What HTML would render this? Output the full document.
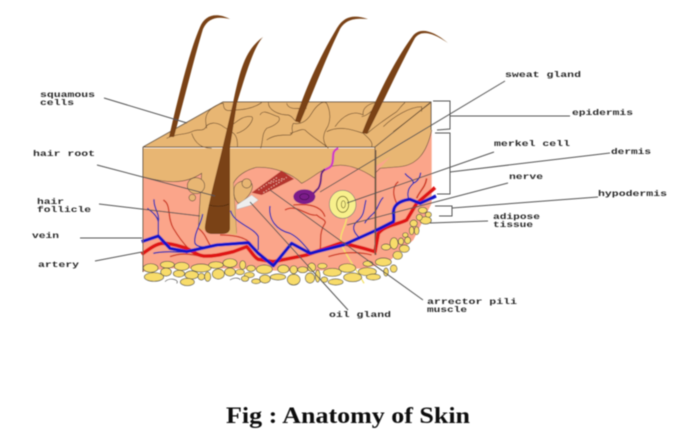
<!DOCTYPE html>
<html><head><meta charset="utf-8"><style>
html,body{margin:0;padding:0;background:#fff;width:686px;height:437px;overflow:hidden}
svg{display:block}
.l text{font-family:"Liberation Mono","DejaVu Sans Mono",monospace;font-weight:bold;font-size:8.5px;fill:#2a2a2a}
</style></head><body>
<svg width="686" height="437" viewBox="0 0 686 437" xmlns="http://www.w3.org/2000/svg">
<defs><filter id="b" x="-5%" y="-5%" width="110%" height="110%"><feGaussianBlur stdDeviation="0.4"/></filter></defs>
<g filter="url(#b)">
<!-- top face + side -->
<polygon points="143,147 223,102 431,102 431,150 375,190 375,147" fill="#E8B673"/>
<g transform="translate(130,140) scale(.33333)">
 <!-- salmon body -->
 <path d="M38,25 L38,395 L120,385 L300,385 L500,395 L700,385 L770,370 L850,300 L905,190 L905,-30 L735,80 L735,25 Z" fill="#FBA58A"/>
 <!-- tan front with follicle sleeve -->
 <path d="M38,25 L735,25 L735,115 C700,90 640,60 590,85 C565,95 545,115 515,130 C490,105 440,80 380,82 C345,90 320,110 310,130 L320,285 L205,268 L215,100 C200,110 170,125 130,125 C90,125 60,115 38,110 Z" fill="#E8B673"/>
 <path d="M735,100 L750,85 L810,80 C860,75 890,40 905,-30 L800,30 L735,100 Z" fill="#E8B673"/>
 <path d="M38,110 C60,115 90,125 130,125 C170,125 200,110 215,100 L205,265 M310,130 C320,110 345,90 380,82 C440,80 490,105 515,130 C545,115 565,95 590,85 C640,60 700,90 735,115 M735,100 L750,85 L810,80 C860,75 890,40 905,-30" fill="none" stroke="#6b5240" stroke-width="2"/>
 <path d="M310,130 L320,280" fill="none" stroke="#a98a5c" stroke-width="2"/>
 <!-- gland circles -->
 <ellipse cx="198" cy="137" rx="26" ry="24" fill="#E8B673" stroke="#6b5240" stroke-width="2"/>
 <circle cx="187" cy="173" r="10" fill="#E8B673" stroke="#6b5240" stroke-width="2"/>
 <path d="M312,150 C312,125 345,115 365,130 C375,150 345,185 325,190 C315,180 310,165 312,150 Z" fill="#E8B673" stroke="#6b5240" stroke-width="2"/>
 <circle cx="350" cy="130" r="14" fill="#E8B673" stroke="#6b5240" stroke-width="2"/>
 <polygon points="320,195 365,165 385,180 365,195 320,208" fill="#eee" stroke="#999" stroke-width="1"/>
 <!-- speckled muscle -->
 <polygon points="365,158 455,92 492,117 395,165" fill="#B5352E"/>
 <path d="M385,150 L445,110 M400,158 L470,112 M420,130 L460,115" stroke="#e9b0a0" stroke-width="3" stroke-dasharray="4 5"/>
 <!-- merkel cell -->
 <path d="M625,25 C600,35 615,55 605,75 C600,85 590,85 585,90" fill="none" stroke="#D23BC2" stroke-width="7"/>
 <path d="M585,88 C565,100 580,120 565,145 L545,165" fill="none" stroke="#6B1F80" stroke-width="6"/>
 <ellipse cx="523" cy="170" rx="33" ry="22" fill="#7B1E8A"/>
 <ellipse cx="523" cy="170" rx="14" ry="9" fill="none" stroke="#3f0d4a" stroke-width="2"/>
 <!-- nerve ending -->
 <ellipse cx="638" cy="193" rx="40" ry="42" fill="#F8F08C" stroke="#777" stroke-width="2"/>
 <ellipse cx="638" cy="193" rx="18" ry="24" fill="none" stroke="#6c6420" stroke-width="2.5"/>
 <ellipse cx="640" cy="193" rx="6" ry="11" fill="none" stroke="#6c6420" stroke-width="2"/>
 <path d="M650,235 C645,265 625,285 635,315 C650,350 680,390 702,430" fill="none" stroke="#F5E26A" stroke-width="4"/>
 <!-- thin red -->
 <g fill="none" stroke="#D03A24" stroke-width="4">
  <path d="M100,180 C125,195 110,230 130,265 C145,290 160,310 175,325"/>
  <path d="M205,265 C225,280 230,300 240,315"/>
  <path d="M465,210 C500,190 530,230 560,225 C570,235 590,240 585,250 C565,280 575,310 570,330"/>
  <path d="M490,195 C540,190 575,200 585,230"/>
  <path d="M270,285 C310,285 350,290 365,315"/>
  <path d="M120,350 C160,335 190,345 220,350"/>
  <path d="M595,350 C640,335 690,335 725,345"/>
  <path d="M805,125 C785,140 790,170 800,190"/>
  <path d="M890,115 C885,145 870,150 860,175" stroke-width="5"/>
 </g>
 <!-- thin blue -->
 <g fill="none" stroke="#3232B0" stroke-width="4">
  <path d="M72,178 C70,205 90,220 85,245 C85,265 85,275 85,288"/>
  <path d="M52,205 C65,215 80,225 85,245"/>
  <path d="M218,222 C215,250 190,280 195,310 C200,320 215,320 225,322"/>
  <path d="M302,212 C310,250 370,260 385,290 L385,330"/>
  <path d="M420,198 C415,240 440,270 480,280 C510,295 525,320 540,335"/>
  <path d="M70,340 C110,330 150,340 175,335"/>
  <path d="M708,180 C700,210 705,225 680,245 C665,260 670,275 685,290"/>
  <path d="M760,172 C745,185 745,210 725,225 C710,240 705,245 705,250"/>
  <path d="M825,100 C835,115 850,115 850,130 C840,140 830,150 835,175"/>
  <path d="M872,98 C870,115 860,125 850,130"/>
 </g>
 <path d="M738,30 L738,345" stroke="#6b5240" stroke-width="2.5" fill="none"/>
 <!-- fat -->
 <g fill="#F8DC6A" stroke="#444" stroke-width="2">
  <ellipse cx="62" cy="384" rx="22" ry="13"/><ellipse cx="72" cy="411" rx="29" ry="13"/><ellipse cx="112" cy="374" rx="21" ry="10"/><ellipse cx="108" cy="396" rx="16" ry="12"/><ellipse cx="155" cy="379" rx="22" ry="12"/><ellipse cx="147" cy="401" rx="17" ry="10"/><ellipse cx="185" cy="405" rx="20" ry="12"/><ellipse cx="172" cy="426" rx="21" ry="11"/><ellipse cx="213" cy="384" rx="30" ry="12"/><ellipse cx="214" cy="410" rx="10" ry="10"/><ellipse cx="233" cy="410" rx="9" ry="14"/><ellipse cx="258" cy="375" rx="22" ry="10"/><ellipse cx="265" cy="402" rx="18" ry="15"/><ellipse cx="300" cy="369" rx="21" ry="13"/><ellipse cx="300" cy="396" rx="16" ry="12"/><ellipse cx="338" cy="375" rx="9" ry="13"/><ellipse cx="330" cy="396" rx="13" ry="8"/><ellipse cx="358" cy="405" rx="15" ry="8"/><ellipse cx="345" cy="416" rx="11" ry="8"/><ellipse cx="363" cy="385" rx="13" ry="9"/><ellipse cx="403" cy="388" rx="24" ry="13"/><ellipse cx="378" cy="424" rx="13" ry="7"/><ellipse cx="405" cy="417" rx="16" ry="12"/><ellipse cx="444" cy="411" rx="23" ry="9"/><ellipse cx="460" cy="387" rx="17" ry="12"/><ellipse cx="491" cy="389" rx="11" ry="12"/><ellipse cx="491" cy="419" rx="19" ry="16"/><ellipse cx="518" cy="389" rx="15" ry="9"/><ellipse cx="545" cy="382" rx="12" ry="13"/><ellipse cx="540" cy="414" rx="14" ry="15"/><ellipse cx="563" cy="408" rx="7" ry="18"/><ellipse cx="577" cy="378" rx="14" ry="8"/><ellipse cx="583" cy="419" rx="10" ry="8"/><ellipse cx="607" cy="397" rx="27" ry="12"/><ellipse cx="617" cy="426" rx="22" ry="9"/><ellipse cx="652" cy="384" rx="25" ry="13"/><ellipse cx="668" cy="412" rx="27" ry="13"/><ellipse cx="712" cy="395" rx="27" ry="12"/><ellipse cx="714" cy="371" rx="15" ry="8"/><ellipse cx="730" cy="411" rx="21" ry="9"/><ellipse cx="760" cy="366" rx="24" ry="12"/><ellipse cx="768" cy="321" rx="14" ry="9"/><ellipse cx="768" cy="396" rx="7" ry="12"/><ellipse cx="791" cy="386" rx="10" ry="11"/><ellipse cx="792" cy="310" rx="12" ry="17"/><ellipse cx="803" cy="346" rx="14" ry="12"/><ellipse cx="823" cy="326" rx="15" ry="11"/><ellipse cx="813" cy="304" rx="8" ry="10"/><ellipse cx="833" cy="301" rx="9" ry="10"/><ellipse cx="826" cy="285" rx="8" ry="7"/><ellipse cx="845" cy="272" rx="7" ry="12"/><ellipse cx="860" cy="272" rx="7" ry="12"/><ellipse cx="851" cy="250" rx="11" ry="10"/><ellipse cx="887" cy="241" rx="17" ry="11"/><ellipse cx="878" cy="211" rx="13" ry="9"/><ellipse cx="868" cy="232" rx="9" ry="9"/><ellipse cx="895" cy="224" rx="9" ry="8"/>
 </g>
 <path d="M105,425 C120,410 150,420 140,430 M300,420 C315,410 330,415 330,420" fill="none" stroke="#555" stroke-width="2"/>
 <!-- main vessels -->
 <path d="M35,343 C60,325 80,310 100,310 C130,310 150,320 170,325 C190,335 200,345 220,348 C250,350 280,342 310,335 L350,320 C365,335 370,350 385,358 L430,365 L530,345 L630,310 C670,315 700,325 735,335 L745,280 C765,255 800,255 830,240 L860,190 L915,143" fill="none" stroke="#E01515" stroke-width="11" stroke-linejoin="round"/>
 <path d="M35,305 L85,288 L120,325 L170,335 L260,315 L355,308 L385,340 L430,377 L485,310 L540,340 L640,315 L740,270 L790,245 C795,230 785,215 795,200 C805,185 825,180 840,178 L870,190 L918,168" fill="none" stroke="#1616C8" stroke-width="10" stroke-linejoin="round"/>
</g>
<!-- block edges -->
<path d="M143,147 L223,102 L431,102 L431,130 M143,147 L375,147 L431,102 M143,147 L143,272 M375,147 L375,255" fill="none" stroke="#6a5a48" stroke-width="1"/>
<!-- top face cracks -->
<g transform="translate(130,0) scale(.33333)" fill="none" stroke="#6b4a2a" stroke-width="2">
 <path d="M110,415 C140,400 165,405 185,395 C205,385 215,395 225,385 C235,365 260,365 280,380 C300,395 325,395 322,440"/>
 <path d="M185,400 C195,430 215,445 245,445 M230,385 C225,360 225,345 240,330 C255,315 275,310 280,310 C280,330 290,335 310,330 C340,330 370,325 395,308"/>
 <path d="M300,380 C320,365 340,345 365,350 C375,355 355,390 320,400 M390,345 C400,325 425,345 445,350 C455,360 440,375 410,385 C395,400 400,420 392,445"/>
 <path d="M415,308 C415,330 445,345 475,345 C490,350 490,360 500,365 M470,310 C475,330 500,325 530,325"/>
 <path d="M410,420 C430,405 455,405 480,405 C495,400 480,385 490,370 C510,375 530,365 545,340 C560,315 580,300 590,310 C605,340 600,370 590,385 C575,410 580,430 595,445"/>
 <path d="M480,400 C500,395 515,385 525,390 C545,410 565,420 590,440 M590,395 C630,375 670,390 700,400 C715,415 730,425 725,440"/>
 <path d="M615,380 C640,345 670,330 700,345 M700,345 C695,325 720,305 745,310 C735,320 720,345 695,350 M712,400 C740,375 770,355 800,335 C810,325 815,315 825,308"/>
 <path d="M760,380 C790,350 840,320 875,320 L875,335 M790,395 L900,310"/>
</g>
<!-- hairs -->
<g fill="#7A4317">
 <path d="M169,137 C180,90 190,50 200,27 C205,15 216,12 230,19 C217,16 208,18 203,29 C195,55 184,100 174,137 Z"/>
 <path d="M205,226 C208,205 216,175 222,150 L233,103 C240,70 245,50 263,37 C254,47 247,70 237,103 L230,147 L230,228 Q230,234 222,234 L212,234 Q204,234 205,226 Z"/>
 <path d="M295,121 C305,90 318,60 337,28 C345,15 355,15 368,19 C355,18 346,19 340,29 C325,60 312,95 300,123 Z"/>
 <path d="M362,133 C375,100 395,60 412,37 C418,28 430,28 448,43 C432,32 421,30 415,38 C400,65 382,105 367,134 Z"/>
</g>
<path d="M209,205 Q220,208 229,204" fill="none" stroke="#4f2a0d" stroke-width="0.8"/>
<!-- leader lines -->
<g fill="none" stroke="#555" stroke-width="1">
 <path d="M104,98 L187,123 M97,165 L215,196 M99,204 L200,216 M80,238 L142,238 M95,261 L142,252"/>
 <path d="M505,81 L320,192 M494,152 L347,203 M610,153 L450,172 M508,183 L347,225 M598,197 L452,208 M488,221 L430,223"/>
 <path d="M348,310 L250,202 M423,300 L270,190"/>
 <path d="M433,101 L450,101 L450,129 L437,130 M450,116 L570,116 M435,133 L450,133 L450,194 L437,194 M435,206 L452,206 L452,216 L439,216"/>
</g>
<g class="l">
 <text x="40" y="97" textLength="55" lengthAdjust="spacingAndGlyphs">squamous</text>
 <text x="40" y="105" textLength="34" lengthAdjust="spacingAndGlyphs">cells</text>
 <text x="33" y="156" textLength="62" lengthAdjust="spacingAndGlyphs">hair root</text>
 <text x="37" y="204" textLength="27" lengthAdjust="spacingAndGlyphs">hair</text>
 <text x="37" y="212" textLength="54" lengthAdjust="spacingAndGlyphs">follicle</text>
 <text x="32" y="238" textLength="27" lengthAdjust="spacingAndGlyphs">vein</text>
 <text x="38" y="267" textLength="41" lengthAdjust="spacingAndGlyphs">artery</text>
 <text x="505" y="77" textLength="76" lengthAdjust="spacingAndGlyphs">sweat gland</text>
 <text x="572" y="115" textLength="61" lengthAdjust="spacingAndGlyphs">epidermis</text>
 <text x="494" y="146" textLength="76" lengthAdjust="spacingAndGlyphs">merkel cell</text>
 <text x="611" y="154" textLength="40" lengthAdjust="spacingAndGlyphs">dermis</text>
 <text x="509" y="179" textLength="34" lengthAdjust="spacingAndGlyphs">nerve</text>
 <text x="598" y="196" textLength="69" lengthAdjust="spacingAndGlyphs">hypodermis</text>
 <text x="493" y="219" textLength="47" lengthAdjust="spacingAndGlyphs">adipose</text>
 <text x="493" y="227" textLength="40" lengthAdjust="spacingAndGlyphs">tissue</text>
 <text x="427" y="304" textLength="90" lengthAdjust="spacingAndGlyphs">arrector pili</text>
 <text x="427" y="312" textLength="40" lengthAdjust="spacingAndGlyphs">muscle</text>
 <text x="329" y="317" textLength="62" lengthAdjust="spacingAndGlyphs">oil gland</text>
</g>
<text x="226" y="423" textLength="244" lengthAdjust="spacingAndGlyphs" style="font-family:'Liberation Serif',serif;font-weight:bold;font-size:23px;fill:#111">Fig : Anatomy of Skin</text>
</g>
</svg>
</body></html>
